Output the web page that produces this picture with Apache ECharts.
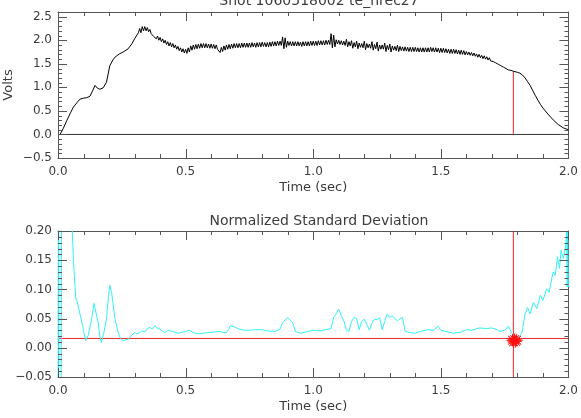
<!DOCTYPE html>
<html>
<head>
<meta charset="utf-8">
<script src="https://cdn.jsdelivr.net/npm/echarts@6/dist/echarts.min.js"></script>
<style>
  html, body { margin: 0; padding: 0; background: #fff; }
  #chart { width: 581px; height: 418px; }
</style>
</head>
<body>
<div id="chart"></div>
<script>
// top panel: te_hrec27 signal, smooth ramp-up and ramp-down parts
const rampUpTime = [
  0.008, 0.02, 0.034, 0.05, 0.06, 0.075, 0.086, 0.10, 0.112, 0.125, 0.135, 0.145, 0.155, 0.164, 0.177,
  0.19, 0.203, 0.215, 0.223, 0.24, 0.255, 0.275, 0.29, 0.30, 0.315
];
const rampUpValue = [
  0.00, 0.12, 0.29, 0.47, 0.58, 0.68, 0.75, 0.77, 0.78, 0.81, 0.92, 1.04, 0.98, 0.96, 0.99,
  1.11, 1.46, 1.58, 1.64, 1.71, 1.75, 1.82, 1.93, 2.03, 2.16
];
// noisy flat-top, sampled every 5 ms from 0.32 s
const flatStart = 0.32;
const flatStep = 0.005;
const flatValue = [
  2.25, 2.16, 2.29, 2.20, 2.29, 2.20, 2.27, 2.18, 2.23, 2.14, 2.17, 2.08, 2.12, 2.03, 2.09, 2.00,
  2.06, 1.97, 2.03, 1.94, 2.00, 1.91, 1.97, 1.88, 1.95, 1.86, 1.93, 1.84, 1.90, 1.81, 1.87, 1.78,
  1.84, 1.75, 1.82, 1.73, 1.81, 1.72, 1.84, 1.75, 1.88, 1.79, 1.90, 1.81, 1.91, 1.82, 1.92, 1.83,
  1.93, 1.84, 1.93, 1.84, 1.93, 1.84, 1.92, 1.83, 1.92, 1.83, 1.91, 1.82, 1.90, 1.81, 1.85, 1.74,
  1.85, 1.76, 1.88, 1.79, 1.90, 1.81, 1.91, 1.82, 1.92, 1.83, 1.93, 1.84, 1.93, 1.84, 1.93, 1.84,
  1.94, 1.85, 1.94, 1.85, 1.94, 1.85, 1.94, 1.85, 1.95, 1.86, 1.94, 1.85, 1.95, 1.86, 1.95, 1.86,
  1.96, 1.87, 1.95, 1.86, 1.95, 1.86, 1.96, 1.87, 1.97, 1.88, 1.97, 1.88, 1.98, 1.89, 1.98, 1.89,
  2.07, 1.82, 2.05, 1.85, 1.98, 1.89, 1.97, 1.88, 1.97, 1.88, 1.97, 1.88, 1.97, 1.88, 1.96, 1.87,
  1.97, 1.88, 1.97, 1.88, 1.97, 1.88, 1.98, 1.89, 1.98, 1.89, 1.98, 1.89, 1.99, 1.90, 1.99, 1.90,
  1.99, 1.90, 2.00, 1.91, 2.00, 1.91, 2.14, 1.84, 2.11, 1.86, 2.01, 1.92, 2.00, 1.91, 1.99, 1.90,
  1.98, 1.89, 2.02, 1.86, 1.97, 1.88, 1.99, 1.83, 1.95, 1.86, 1.98, 1.82, 1.94, 1.85, 1.93, 1.84,
  1.98, 1.80, 1.93, 1.84, 1.92, 1.83, 1.97, 1.79, 1.91, 1.82, 1.96, 1.77, 1.90, 1.81, 1.90, 1.81,
  1.94, 1.76, 1.89, 1.80, 1.92, 1.75, 1.88, 1.79, 1.87, 1.78, 1.90, 1.76, 1.87, 1.78, 1.86, 1.77,
  1.86, 1.77, 1.85, 1.76, 1.85, 1.76, 1.85, 1.76, 1.85, 1.76, 1.84, 1.75, 1.84, 1.75, 1.84, 1.75,
  1.84, 1.75, 1.84, 1.75, 1.85, 1.76, 1.84, 1.75, 1.84, 1.75, 1.83, 1.74, 1.83, 1.74, 1.83, 1.74,
  1.82, 1.73, 1.81, 1.72, 1.81, 1.72, 1.81, 1.72, 1.80, 1.71, 1.79, 1.70, 1.79, 1.70, 1.78, 1.69,
  1.76, 1.69, 1.75, 1.68, 1.74, 1.67, 1.73, 1.66, 1.71, 1.64, 1.70, 1.63, 1.68, 1.61, 1.67, 1.60,
  1.65, 1.58, 1.63, 1.56, 1.60, 1.55, 1.57, 1.52, 1.54, 1.49, 1.51, 1.46, 1.47, 1.43, 1.44, 1.40,
  1.41, 1.37, 1.38, 1.36, 1.36, 1.34
];
const rampDownTime = [
  1.79, 1.80, 1.81, 1.82, 1.83, 1.84, 1.85, 1.86, 1.87, 1.88, 1.89, 1.90, 1.92, 1.94, 1.96, 1.98, 1.99, 2.00
];
const rampDownValue = [
  1.33, 1.32, 1.30, 1.26, 1.20, 1.12, 1.04, 0.93, 0.83, 0.73, 0.64, 0.56, 0.43, 0.31, 0.21, 0.14, 0.12, 0.10
];

// bottom panel: normalized standard deviation
const sdTime = [
  0.000, 0.002, 0.004, 0.012, 0.014, 0.040, 0.056, 0.060, 0.066, 0.070, 0.074, 0.080, 0.086, 0.096,
  0.108, 0.118, 0.131, 0.141, 0.147, 0.157, 0.164, 0.170, 0.180, 0.190, 0.198, 0.203, 0.210, 0.223, 0.236,
  0.245, 0.255, 0.275, 0.290, 0.300, 0.310, 0.320, 0.330, 0.340, 0.350, 0.360, 0.370, 0.380, 0.390, 0.400,
  0.410, 0.420, 0.430, 0.450, 0.470, 0.480, 0.500, 0.516, 0.530, 0.550, 0.570, 0.590, 0.610, 0.630, 0.650,
  0.660, 0.670, 0.675, 0.690, 0.710, 0.730, 0.750, 0.770, 0.800, 0.820, 0.850, 0.870, 0.880, 0.890, 0.900,
  0.910, 0.920, 0.930, 0.950, 0.970, 1.000, 1.030, 1.050, 1.070, 1.080, 1.090, 1.100, 1.110, 1.120, 1.130,
  1.140, 1.150, 1.160, 1.170, 1.180, 1.190, 1.200, 1.210, 1.220, 1.230, 1.240, 1.250, 1.260, 1.270, 1.280,
  1.290, 1.300, 1.310, 1.320, 1.330, 1.340, 1.350, 1.360, 1.380, 1.400, 1.420, 1.450, 1.470, 1.490, 1.500,
  1.520, 1.550, 1.580, 1.600, 1.620, 1.650, 1.680, 1.700, 1.720, 1.730, 1.750, 1.765, 1.772, 1.779, 1.790,
  1.805, 1.818, 1.830, 1.840, 1.850, 1.863, 1.876, 1.890, 1.900, 1.915, 1.924, 1.940, 1.948, 1.957, 1.965,
  1.971, 1.980, 1.990, 1.993, 1.995, 1.997, 2.000
];
const sdValue = [
  -0.30, 0.50, -0.30, -0.30, 0.50, 0.30, 0.200, 0.153, 0.110, 0.084, 0.080, 0.070, 0.058, 0.038,
  0.012, 0.021, 0.047, 0.076, 0.075, 0.044, 0.020, 0.009, 0.026, 0.050, 0.090, 0.107, 0.095, 0.050, 0.026,
  0.016, 0.012, 0.015, 0.022, 0.026, 0.024, 0.026, 0.029, 0.027, 0.033, 0.035, 0.032, 0.038, 0.033, 0.032,
  0.028, 0.026, 0.030, 0.028, 0.025, 0.026, 0.028, 0.030, 0.026, 0.024, 0.025, 0.026, 0.027, 0.028, 0.026,
  0.026, 0.032, 0.038, 0.036, 0.032, 0.030, 0.030, 0.031, 0.031, 0.029, 0.028, 0.032, 0.043, 0.048, 0.052,
  0.047, 0.043, 0.028, 0.025, 0.027, 0.030, 0.029, 0.031, 0.033, 0.052, 0.058, 0.066, 0.055, 0.046, 0.030,
  0.028, 0.045, 0.052, 0.050, 0.031, 0.045, 0.049, 0.040, 0.030, 0.042, 0.049, 0.048, 0.052, 0.031, 0.045,
  0.058, 0.052, 0.055, 0.050, 0.046, 0.050, 0.052, 0.028, 0.026, 0.025, 0.028, 0.031, 0.030, 0.037, 0.030,
  0.028, 0.025, 0.027, 0.031, 0.030, 0.034, 0.033, 0.034, 0.031, 0.028, 0.030, 0.037, 0.035, 0.024, 0.014,
  0.018, 0.026, 0.058, 0.069, 0.058, 0.078, 0.067, 0.090, 0.081, 0.101, 0.095, 0.130, 0.124, 0.156, 0.136,
  0.167, 0.153, 0.176, 0.200, 0.104, 0.200, 0.104
];

const cutTime = 1.784;      // red vertical marker
const cutVolt = 1.34;       // signal level at the marker
const sdThreshold = 0.016;  // red horizontal level
const starTime = [1.781, 1.785, 1.789, 1.793, 1.797];
const starValue = [0.013, 0.010, 0.014, 0.011, 0.013];

// tick positions
const timeMajorTicks = [0, 0.5, 1.0, 1.5, 2.0];
const timeMinorTicks = [0.1, 0.2, 0.3, 0.4, 0.6, 0.7, 0.8, 0.9, 1.1, 1.2, 1.3, 1.4, 1.6, 1.7, 1.8, 1.9];
const voltMajorTicks = [-0.5, 0, 0.5, 1.0, 1.5, 2.0, 2.5];
const voltMinorTicks = [-0.4, -0.3, -0.2, -0.1, 0.1, 0.2, 0.3, 0.4, 0.6, 0.7, 0.8, 0.9, 1.1, 1.2, 1.3, 1.4,
  1.6, 1.7, 1.8, 1.9, 2.1, 2.2, 2.3, 2.4];
const sdMajorTicks = [-0.05, 0, 0.05, 0.10, 0.15, 0.20];
const sdMinorTicks = [-0.04, -0.03, -0.02, -0.01, 0.01, 0.02, 0.03, 0.04, 0.06, 0.07, 0.08, 0.09,
  0.11, 0.12, 0.13, 0.14, 0.16, 0.17, 0.18, 0.19];

const FONT = 'DejaVu Sans';
const TEXT = '#3c3c3c';
const AXIS = '#555555';
const RED = '#e8262b';
const MAJOR_LEN = 9;
const MINOR_LEN = 4;
const ASTERISK = 'path://M0,-10 L0.57,-1.39 L7.07,-7.07 L1.39,-0.57 L10,0 L1.39,0.57 L7.07,7.07 L0.57,1.39 L0,10 L-0.57,1.39 L-7.07,7.07 L-1.39,0.57 L-10,0 L-1.39,-0.57 L-7.07,-7.07 L-0.57,-1.39 Z';

const zip = (xs, ys) => xs.map((x, i) => [x, ys[i]]);
const voltData = zip(rampUpTime, rampUpValue)
  .concat(flatValue.map((v, i) => [+(flatStart + i * flatStep).toFixed(3), v]))
  .concat(zip(rampDownTime, rampDownValue));

const line = () => ({ color: AXIS, width: 1 });
const signed = (v, d) => (v < -1e-9 ? '\u2212' : '') + Math.abs(v).toFixed(d);

const timeAxis = (grid, position, showLabel) => {
  const axis = {
    type: 'value',
    gridIndex: grid,
    position,
    min: 0,
    max: 2,
    interval: 0.5,
    axisLine: { show: true, onZero: false, lineStyle: line() },
    axisTick: { show: false },
    minorTick: { show: false },
    splitLine: { show: false },
    axisLabel: { show: showLabel, margin: 8, formatter: (v) => v.toFixed(1), color: TEXT, fontSize: 12 },
  };
  if (showLabel) {
    axis.name = 'Time (sec)';
    axis.nameLocation = 'middle';
    axis.nameGap = 23;
    axis.nameTextStyle = { color: TEXT, fontSize: 13 };
  }
  return axis;
};

const voltAxis = (position, showLabel) => ({
  type: 'value',
  gridIndex: 0,
  position,
  min: -0.5,
  max: 2.6,
  interval: 0.1,
  axisLine: { show: true, onZero: false, lineStyle: line() },
  axisTick: { show: false },
  minorTick: { show: false },
  splitLine: { show: false },
  axisLabel: {
    show: showLabel,
    margin: 6,
    color: TEXT,
    fontSize: 12,
    formatter: (v) => (Math.abs(v * 2 - Math.round(v * 2)) < 1e-6 && v < 2.55 ? signed(v, 1) : ''),
  },
});

const sdAxis = (position, showLabel) => ({
  type: 'value',
  gridIndex: 1,
  position,
  min: -0.05,
  max: 0.2,
  interval: 0.05,
  axisLine: { show: true, onZero: false, lineStyle: line() },
  axisTick: { show: false },
  minorTick: { show: false },
  splitLine: { show: false },
  axisLabel: { show: showLabel, margin: 6, color: TEXT, fontSize: 12, formatter: (v) => signed(v, 2) },
});

// inward tick marks on all four sides of a panel, placed through the panel's axes
const tickSeries = (xIdx, yIdx, xRange, yRange, yMajor, yMinor) => ({
  type: 'custom',
  xAxisIndex: xIdx,
  yAxisIndex: yIdx,
  silent: true,
  z: 6,
  data: [
    ...timeMajorTicks.map((v) => [0, v, MAJOR_LEN]),
    ...timeMinorTicks.map((v) => [0, v, MINOR_LEN]),
    ...yMajor.map((v) => [1, v, MAJOR_LEN]),
    ...yMinor.map((v) => [1, v, MINOR_LEN]),
  ],
  renderItem: (params, api) => {
    const kind = api.value(0);
    const v = api.value(1);
    const len = api.value(2);
    const style = { stroke: AXIS, lineWidth: 1 };
    if (kind === 0) {
      const b = api.coord([v, yRange[0]]);
      const t = api.coord([v, yRange[1]]);
      const x = Math.round(b[0]) + 0.5;
      return {
        type: 'group',
        children: [
          { type: 'line', shape: { x1: x, y1: b[1], x2: x, y2: b[1] - len }, style },
          { type: 'line', shape: { x1: x, y1: t[1], x2: x, y2: t[1] + len }, style },
        ],
      };
    }
    const l = api.coord([xRange[0], v]);
    const r = api.coord([xRange[1], v]);
    const y = Math.round(l[1]) + 0.5;
    return {
      type: 'group',
      children: [
        { type: 'line', shape: { x1: l[0], y1: y, x2: l[0] + len, y2: y }, style },
        { type: 'line', shape: { x1: r[0], y1: y, x2: r[0] - len, y2: y }, style },
      ],
    };
  },
});

const chart = echarts.init(document.getElementById('chart'));

chart.setOption({
  animation: false,
  backgroundColor: '#fff',
  textStyle: { fontFamily: FONT },
  title: [
    {
      text: 'Shot 1060518002 te_hrec27',
      left: 314,
      textAlign: 'center',
      top: -11,
      textStyle: { color: TEXT, fontSize: 14, fontWeight: 'normal', fontFamily: FONT },
    },
    {
      text: 'Normalized Standard Deviation',
      left: 314,
      textAlign: 'center',
      top: 209,
      textStyle: { color: TEXT, fontSize: 14, fontWeight: 'normal', fontFamily: FONT },
    },
  ],
  graphic: [
    {
      type: 'text',
      x: 9,
      y: 85,
      rotation: Math.PI / 2,
      style: { text: 'Volts', fill: TEXT, font: '13px "DejaVu Sans"', align: 'center', verticalAlign: 'middle' },
    },
  ],
  grid: [
    { left: 58, right: 11, top: 12, height: 146 },
    { left: 58, right: 11, top: 231, height: 146 },
  ],
  xAxis: [
    timeAxis(0, 'bottom', true),
    timeAxis(0, 'top', false),
    timeAxis(1, 'bottom', true),
    timeAxis(1, 'top', false),
  ],
  yAxis: [
    voltAxis('left', true),
    voltAxis('right', false),
    sdAxis('left', true),
    sdAxis('right', false),
  ],
  series: [
    {
      type: 'line',
      xAxisIndex: 0,
      yAxisIndex: 0,
      data: voltData,
      showSymbol: false,
      lineStyle: { color: '#000', width: 1 },
      z: 3,
    },
    {
      type: 'line',
      xAxisIndex: 0,
      yAxisIndex: 0,
      data: [[0, 0], [2, 0]],
      showSymbol: false,
      lineStyle: { color: '#333', width: 1 },
      z: 2,
    },
    {
      type: 'line',
      xAxisIndex: 0,
      yAxisIndex: 0,
      data: [[cutTime, 0], [cutTime, cutVolt]],
      showSymbol: false,
      lineStyle: { color: RED, width: 1 },
      z: 2,
    },
    {
      type: 'line',
      xAxisIndex: 2,
      yAxisIndex: 2,
      data: zip(sdTime, sdValue),
      showSymbol: false,
      lineStyle: { color: '#33f2f5', width: 1 },
      z: 3,
    },
    {
      type: 'line',
      xAxisIndex: 2,
      yAxisIndex: 2,
      data: [[0, sdThreshold], [2, sdThreshold]],
      showSymbol: false,
      lineStyle: { color: RED, width: 1 },
      z: 2,
    },
    {
      type: 'line',
      xAxisIndex: 2,
      yAxisIndex: 2,
      data: [[cutTime, -0.05], [cutTime, 0.2]],
      showSymbol: false,
      lineStyle: { color: RED, width: 1 },
      z: 2,
    },
    {
      type: 'scatter',
      xAxisIndex: 2,
      yAxisIndex: 2,
      data: zip(starTime, starValue),
      symbol: ASTERISK,
      symbolSize: 12,
      itemStyle: { color: '#ff1010', borderColor: '#ff1010', borderWidth: 1 },
      z: 5,
    },
    tickSeries(0, 0, [0, 2], [-0.5, 2.6], voltMajorTicks, voltMinorTicks),
    tickSeries(2, 2, [0, 2], [-0.05, 0.2], sdMajorTicks, sdMinorTicks),
  ],
});
</script>
</body>
</html>
